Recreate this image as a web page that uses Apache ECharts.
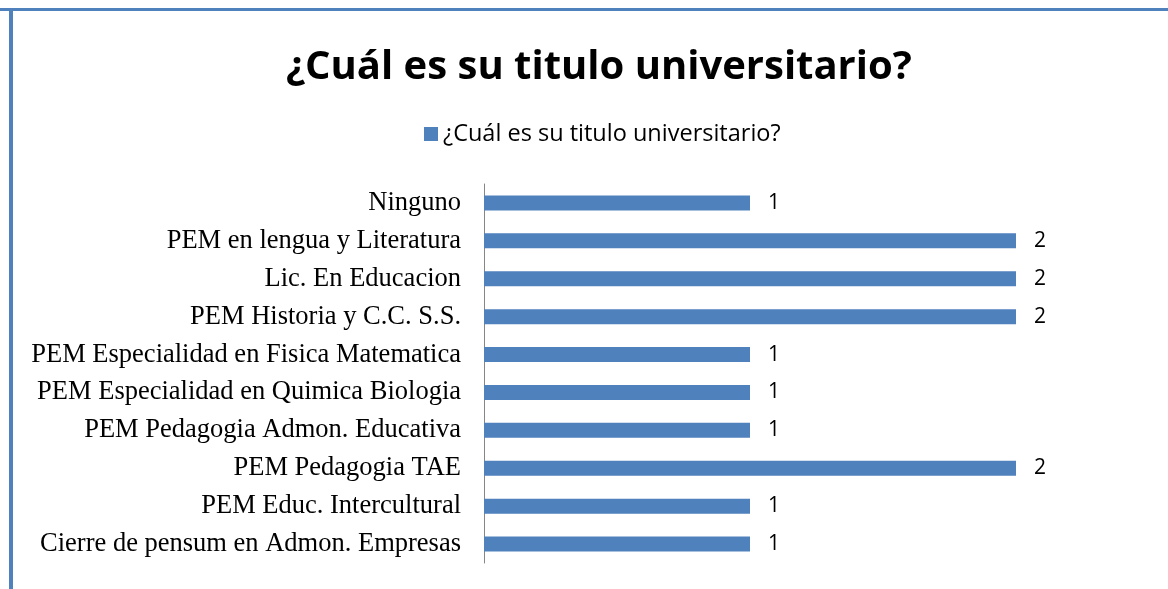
<!DOCTYPE html>
<html><head><meta charset="utf-8">
<script src="https://cdn.jsdelivr.net/npm/echarts@6/dist/echarts.min.js"></script>
<style>html,body{margin:0;padding:0;background:#fff}#c{width:1168px;height:589px}</style>
</head><body><div id="c"></div>
<script>
const categories = [
  "Cierre de pensum en Admon. Empresas",
  "PEM Educ. Intercultural",
  "PEM Pedagogia TAE",
  "PEM Pedagogia Admon. Educativa",
  "PEM Especialidad en Quimica Biologia",
  "PEM Especialidad en Fisica Matematica",
  "PEM Historia y C.C. S.S.",
  "Lic. En Educacion",
  "PEM en lengua y Literatura",
  "Ninguno"
];
const values = [1, 1, 2, 1, 1, 1, 2, 2, 2, 1];
const seriesName = "¿Cuál es su titulo universitario?";
const titleText = "¿Cuál es su titulo universitario?";

const chart = echarts.init(document.getElementById('c'));
chart.setOption({
  animation: false,
  title: {
    text: titleText, left: 281, top: 43,
    textStyle: {fontFamily: 'Open Sans', fontWeight: 'bold', fontSize: 40, color: '#000'}
  },
  legend: {
    top: 117, left: 419, itemWidth: 14, itemHeight: 14, itemGap: 4,
    textStyle: {fontFamily: 'Open Sans', fontSize: 23.5, color: '#000'},
    data: [{name: seriesName, icon: 'rect'}]
  },
  graphic: [
    {type: 'rect', shape: {x: 0, y: 8, width: 1168, height: 3}, style: {fill: '#4F81BD'}},
    {type: 'rect', shape: {x: 9, y: 8, width: 4, height: 581}, style: {fill: '#4F81BD'}}
  ],
  grid: {left: 484, right: 152, top: 184, bottom: 26},
  xAxis: {type: 'value', min: 0, max: 2, show: false},
  yAxis: {
    type: 'category', data: categories,
    axisLine: {show: true, lineStyle: {color: '#868686', width: 1}},
    axisTick: {show: false},
    axisLabel: {margin: 23, fontFamily: 'Liberation Serif', fontSize: 26.5, color: '#000', padding: [4, 0, 0, 0]}
  },
  series: [{
    name: seriesName, type: 'bar', data: values, barWidth: 15,
    itemStyle: {color: '#4F81BD'},
    label: {show: true, position: 'right', distance: 18, fontFamily: 'Open Sans', fontSize: 21, color: '#000'}
  }]
});
</script></body></html>
